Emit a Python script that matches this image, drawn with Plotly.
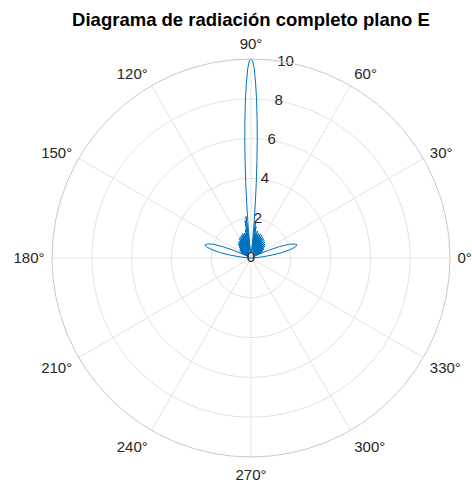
import plotly.graph_objects as go

# pattern: angle (deg) and field value
theta_lobe_r = [0, 2, 4, 6, 8, 10, 12, 14, 16, 18, 20, 22, 24, 26]
r_lobe_r = [0.0, 0.05, 0.2, 0.6, 1.1, 1.6, 2.0, 2.3, 2.4, 2.3, 2.0, 1.5, 0.9, 0.35]

theta_clut_r = list(range(27, 85))
r_clut_r = [0.45, 0.15, 0.60, 0.20, 0.70, 0.25, 0.55, 0.15, 0.80,
            0.30, 0.65, 0.20, 0.85, 0.35, 0.95, 0.25, 0.75, 0.30, 1.00,
            0.40, 0.85, 0.20, 1.05, 0.35, 0.90, 0.30, 1.10, 0.45, 0.95,
            0.25, 1.15, 0.40, 1.00, 0.30, 1.20, 0.50, 1.05, 0.35, 1.25,
            0.45, 1.10, 0.30, 1.30, 0.55, 1.15, 0.40, 1.30, 0.50, 1.20,
            0.35, 1.40, 0.60, 1.25, 0.45, 1.60, 0.70, 1.80, 0.30]

theta_main = [84.5, 85, 85.5, 86, 86.5, 87, 87.5, 88, 88.5, 89, 89.5, 90,
              90.5, 91, 91.5, 92, 92.5, 93, 93.5, 94, 94.5, 95, 95.5, 96]
r_main = [0.8, 1.8, 2.8, 3.8, 4.9, 6.0, 7.0, 8.0, 8.8, 9.5, 9.9, 10.0,
          9.9, 9.5, 8.8, 8.0, 7.0, 6.0, 4.9, 3.8, 2.8, 1.8, 0.8, 0.3]

theta_clut_l = list(range(97, 154))
r_clut_l = [2.10, 0.60, 1.90, 0.45, 1.45, 0.35, 1.25, 0.50, 1.30, 0.40,
            1.15, 0.55, 1.30, 0.35, 1.20, 0.45, 1.25, 0.30, 1.10, 0.50,
            1.20, 0.35, 1.05, 0.30, 1.15, 0.45, 1.00, 0.25, 1.05, 0.40,
            0.95, 0.30, 1.00, 0.35, 0.90, 0.25, 0.95, 0.30, 0.85, 0.40,
            0.80, 0.20, 0.75, 0.30, 0.70, 0.25, 0.65, 0.20, 0.70, 0.30,
            0.55, 0.15, 0.60, 0.20, 0.50, 0.15, 0.45]

theta_lobe_l = [154, 156, 158, 160, 162, 164, 166, 168, 170, 172, 174, 176, 178, 180]
r_lobe_l = [0.35, 0.9, 1.5, 2.0, 2.3, 2.4, 2.3, 2.0, 1.6, 1.1, 0.6, 0.2, 0.05, 0.0]

theta = theta_lobe_r + theta_clut_r + theta_main + theta_clut_l + theta_lobe_l
r = r_lobe_r + r_clut_r + r_main + r_clut_l + r_lobe_l

ang_ticks = list(range(0, 360, 30))
ang_labels = [f"{a}°" for a in ang_ticks]
r_ticks = [0, 2, 4, 6, 8, 10]
r_label_angle = 80  # MATLAB puts the r labels along the 80 deg spoke

fig = go.Figure()
fig.add_trace(go.Scatterpolar(r=r, theta=theta, mode="lines",
                              line=dict(color="#0072BD", width=1),
                              showlegend=False, hoverinfo="skip"))
# r tick labels centred on the 80 deg spoke, like MATLAB does
fig.add_trace(go.Scatterpolar(r=r_ticks, theta=[r_label_angle] * len(r_ticks),
                              mode="text", text=[str(v) for v in r_ticks],
                              textposition="middle center",
                              textfont=dict(size=15, color="#262626"),
                              cliponaxis=False, showlegend=False, hoverinfo="skip"))

W, H = 472, 486
fig.update_layout(
    width=W, height=H, autosize=False,
    margin=dict(l=0, r=0, t=0, b=0),
    paper_bgcolor="white",
    font=dict(family="Liberation Sans, Arial, sans-serif", size=15, color="#262626"),
    title=dict(text="<b>Diagrama de radiación completo plano E</b>",
               x=251 / W, xanchor="center", y=1 - 20 / H, yanchor="middle",
               font=dict(size=18.5, color="#000000")),
    polar=dict(
        domain=dict(x=[52 / W, 450 / W], y=[1 - 457 / H, 1 - 59 / H]),
        bgcolor="white",
        angularaxis=dict(rotation=0, direction="counterclockwise",
                         tickmode="array", tickvals=ang_ticks, ticktext=ang_labels,
                         showgrid=True, gridcolor="#e3e3e3", gridwidth=1,
                         showline=True, linecolor="#c8c8c8", linewidth=1,
                         ticks="outside", ticklen=4, tickcolor="rgba(0,0,0,0)",
                         tickfont=dict(size=15, color="#262626")),
        radialaxis=dict(range=[0, 10], tickmode="array", tickvals=r_ticks,
                        angle=r_label_angle, showticklabels=False,
                        showline=False, ticks="",
                        showgrid=True, gridcolor="#e3e3e3", gridwidth=1),
    ),
)

# drop the browser's default 8px body margin so the figure fills the window
fig.write_html("out.html", config={"displayModeBar": False},
               post_script="document.body.style.margin='0';")
